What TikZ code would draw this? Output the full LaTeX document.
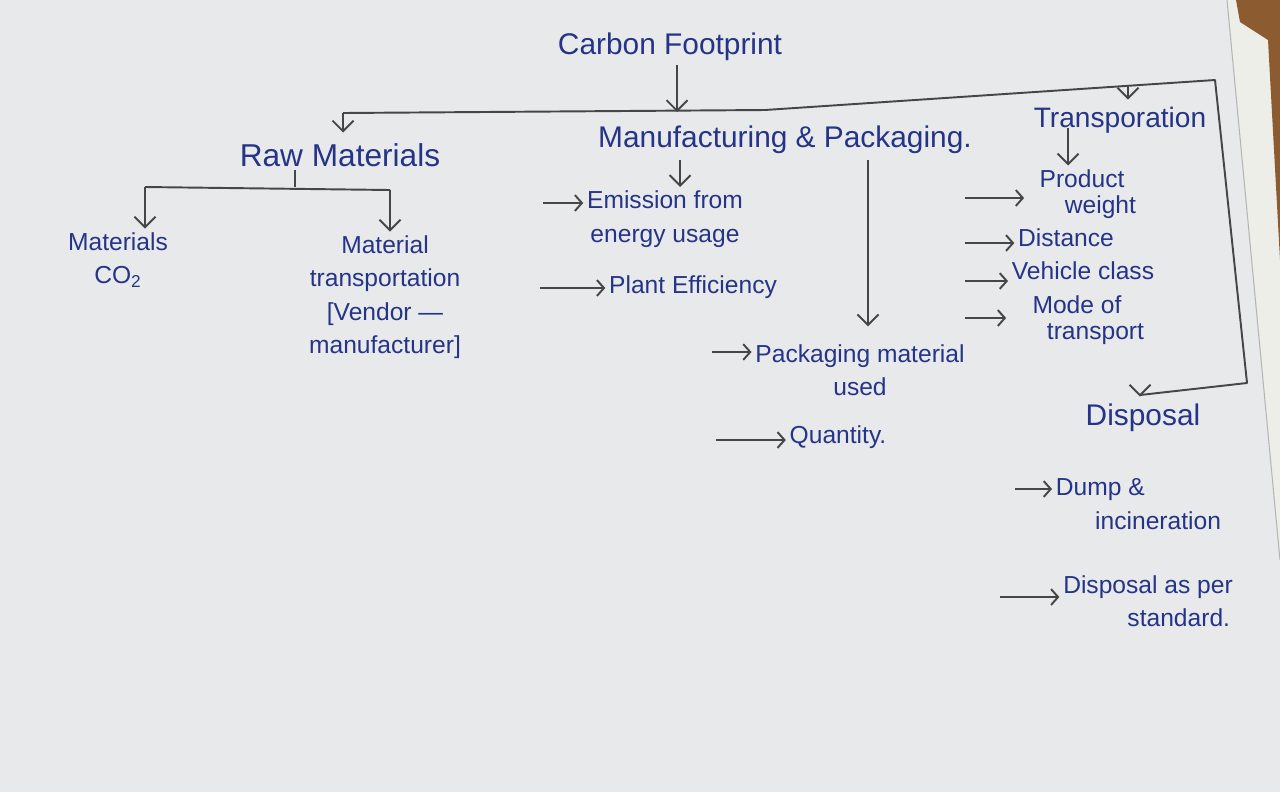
\documentclass[tikz,border=0pt]{standalone}
\usepackage{fontspec}
\setmainfont{Liberation Sans}
\usetikzlibrary{arrows.meta}
\definecolor{ink}{RGB}{38,52,135}
\definecolor{pen}{RGB}{70,70,72}
\definecolor{paper}{RGB}{231,233,235}
\definecolor{paperB}{RGB}{238,238,233}
\definecolor{wood}{RGB}{140,92,48}
\tikzset{
  head/.style={text=ink, font=\fontsize{17}{20}\selectfont, inner sep=2pt},
  item/.style={text=ink, font=\fontsize{14}{19}\selectfont, align=center, inner sep=2pt},
  tight/.style={font=\fontsize{14}{15}\selectfont},
  line/.style={draw=pen, line width=1.1pt, line join=round},
  conn/.style={line, -{Straight Barb[length=6pt,width=12pt]}},
  bullet/.style={line, -{Straight Barb[length=4pt,width=9pt]}}
}
\begin{document}
\begin{tikzpicture}[x=0.02cm,y=-0.02cm]
\useasboundingbox (0,0) rectangle (1280,792);
% paper and surroundings
\fill[paper] (0,0) rectangle (1280,792);
\fill[paperB] (1227,0) -- (1280,0) -- (1280,560) -- cycle;
\fill[wood] (1236,0) -- (1280,0) -- (1280,260) -- (1268,40) -- (1240,22) -- cycle;
\draw[pen!40, line width=0.6pt] (1227,0) -- (1280,560);

% headings
\node[head] (cf) at (670,47) {Carbon Footprint};
\node[head, font=\fontsize{18}{20}\selectfont] (raw) at (340,155) {Raw Materials};
\node[head] (mfg) at (785,140) {Manufacturing \& Packaging.};
\node[head, font=\fontsize{16}{20}\selectfont] (trans) at (1120,120) {Transporation};
\node[head] (disp) at (1143,418) {Disposal};

% raw materials items
\node[item] (mco2) at (118,260) {Materials\\CO\textsubscript{2}};
\node[item] (mt) at (385,297) {Material\\transportation\\{[}Vendor ---\\manufacturer{]}};

% manufacturing items
\node[item] (em) at (665,219) {Emission from\\energy usage};
\node[item] (pe) at (693,287) {Plant Efficiency};
\node[item] (pm) at (860,370) {Packaging material\\used};
\node[item] (qty) at (838,437) {Quantity.};

% transportation items
\node[item, tight] (pw) at (1082,194) {Product\\\hspace*{1.5em}weight};
\node[item] (dist) at (1066,238) {Distance};
\node[item] (vc) at (1083,271) {Vehicle class};
\node[item, tight] (mot) at (1077,320) {Mode of\\\hspace*{1.5em}transport};

% disposal items
\node[item, align=left, anchor=west] (dump) at (1052,504) {Dump \&\\\hspace*{1.6em}incineration};
\node[item] (dstd) at (1148,601) {Disposal as per\\\hspace*{2.5em}standard.};

% main bus
\coordinate (j1) at (677,112);
\coordinate (b1) at (343,113);
\coordinate (b2) at (765,110);
\coordinate (b3) at (1215,80);
\coordinate (b4) at (1247,383);
\coordinate (b5) at (1140,395);
\coordinate (bt) at (1128,86);
\draw[line] (b1) -- (b2) -- (b3) -- (b4) -- (b5);
\draw[conn] (cf.south -| j1) -- (j1);
\draw[conn] (b1) -- ([yshift=4pt]b1 |- raw.north);
\draw[conn] (bt) -- ([yshift=2pt]bt |- trans.north);
\draw[conn] (b5) -- ([yshift=2pt]b5 |- disp.north);

% raw materials branch
\coordinate (rt) at (295,187);
\coordinate (rl) at (145,187);
\coordinate (rr) at (390,190);
\draw[line] (rt |- raw.south) -- (rt);
\draw[line] (rl) -- (rr);
\draw[conn] (rl) -- (rl |- mco2.north);
\draw[conn] (rr) -- (rr |- mt.north);

% manufacturing branch
\coordinate (ms) at (680,160);
\coordinate (pk) at (868,160);
\draw[conn] (ms) -- (ms |- em.north);
\draw[conn] (pk) -- ([yshift=8pt]pk |- pm.north);
\coordinate (a1) at (543,203);
\coordinate (a2) at (540,288);
\coordinate (a3) at (712,352);
\coordinate (a4) at (716,440);
\draw[bullet] (a1) -- (a1 -| em.west);
\draw[bullet] (a2) -- (a2 -| pe.west);
\draw[bullet] (a3) -- (a3 -| pm.west);
\draw[bullet] (a4) -- (a4 -| qty.west);

% transportation branch
\coordinate (ts) at (1068,128);
\draw[conn] (ts) -- (ts |- pw.north);
\coordinate (t1) at (965,198);
\coordinate (t2) at (965,243);
\coordinate (t3) at (965,281);
\coordinate (t4) at (965,318);
\draw[bullet] (t1) -- (t1 -| pw.west);
\draw[bullet] (t2) -- (t2 -| dist.west);
\draw[bullet] (t3) -- (t3 -| vc.west);
\draw[bullet] (t4) -- (t4 -| mot.west);

% disposal branch
\coordinate (d1) at (1015,489);
\coordinate (d2) at (1000,597);
\draw[bullet] (d1) -- (d1 -| dump.west);
\draw[bullet] (d2) -- (d2 -| dstd.west);
\end{tikzpicture}
\end{document}
